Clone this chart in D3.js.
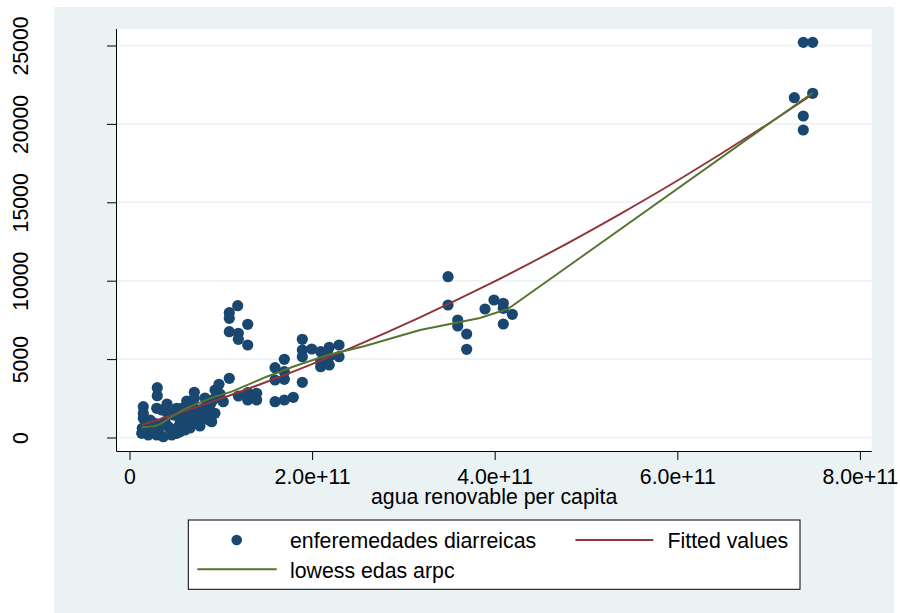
<!DOCTYPE html>
<html>
<head>
<meta charset="utf-8">
<script src="https://cdn.jsdelivr.net/npm/d3@7"></script>
<style>
  html, body { margin: 0; padding: 0; background: #ffffff; }
  svg { display: block; }
  text { font-family: "Liberation Sans", Arial, Helvetica, sans-serif; fill: #000; }
</style>
</head>
<body>
<svg id="chart" width="900" height="613"></svg>
<script>
// Renewable water per capita (x) vs. diarrhoeal disease cases (y)
const waterPerCapita = [
  738.0e9, 748.3e9, 728.2e9, 748.3e9, 738.0e9, 738.0e9,
  348.9e9, 348.9e9, 359.5e9, 359.5e9, 369.3e9, 369.3e9, 389.4e9, 399.2e9, 409.4e9, 409.4e9, 419.3e9, 409.4e9,
  118.5e9, 109.3e9, 109.3e9, 129.5e9, 109.3e9, 119.2e9, 119.2e9, 129.5e9,
  109.3e9, 119.2e9, 129.5e9, 129.5e9, 139.3e9, 139.3e9, 98.0e9, 99.1e9,
  159.4e9, 169.6e9, 159.4e9, 169.6e9, 169.6e9, 159.4e9, 169.6e9, 179.4e9, 189.3e9,
  189.3e9, 189.3e9, 189.3e9, 199.6e9, 209.4e9, 209.4e9, 218.8e9, 218.8e9, 229.5e9, 229.5e9, 209.4e9, 218.8e9,
  15.1e9, 15.1e9, 15.1e9, 14.0e9, 13.4e9, 20.6e9, 20.6e9,
  30.4e9, 30.4e9, 29.8e9, 35.3e9, 40.7e9, 29.8e9, 37.0e9, 27.9e9, 31.5e9, 38.9e9, 42.5e9,
  46.2e9, 51.7e9, 53.5e9, 55.3e9, 53.5e9, 48.0e9, 51.7e9, 57.2e9, 60.8e9, 60.8e9, 60.8e9, 55.3e9,
  62.7e9, 68.1e9, 69.9e9, 68.1e9, 71.0e9, 71.0e9, 75.4e9, 64.4e9,
  82.7e9, 80.8e9, 90.0e9, 84.6e9, 88.2e9, 82.7e9, 93.6e9, 87.1e9, 90.0e9, 93.6e9, 93.6e9, 102.7e9, 79.1e9,
  41.1e9, 22.5e9, 73.9e9, 66.3e9, 77.2e9
];
const diarrhoeaCases = [
  25200, 25200, 21670, 21950, 20505, 19612,
  10256, 8451, 7494, 7111, 6601, 5625, 8196, 8770, 8559, 8240, 7858, 7239,
  8406, 7960, 7603, 7220, 6748, 6646, 6263, 5900,
  3776, 2647, 2857, 2392, 2819, 2392, 3393, 2774,
  4452, 4988, 3667, 4197, 3712, 2283, 2392, 2564, 3521,
  6263, 5581, 5153, 5645, 5472, 4516, 5753, 5153, 5900, 5153, 4835, 4624,
  1964, 1543, 1225, 587, 268, 159, 587,
  3176, 2666, 1862, 1754, 1646, 159, 51, 906, 478, 1008, 689,
  159, 268, 689, 1116, 1543, 1435, 1862, 1862, 1435, 906, 478, 370,
  2328, 1543, 1964, 1008, 2883, 2500, 1646, 1964,
  2519, 1862, 2283, 1225, 2073, 1646, 1543, 1116, 1008, 3030, 2500, 2283, 1435,
  2137, 1116, 1116, 606, 733
];

// Quadratic fit ("Fitted values")
const fitX = [13.4e9, 77.2e9, 148.4e9, 241.5e9, 318.2e9, 391.6e9, 460.6e9, 537.2e9, 603.0e9, 690.6e9, 747.5e9];
const fitY = [797, 2015, 3508, 5689, 7666, 9714, 11787, 14249, 16487, 19670, 21864];

// Lowess smoother ("lowess edas arpc")
const lowessX = [13.4e9, 27.9e9, 35.3e9, 46.2e9, 57.2e9, 71.7e9, 93.6e9, 111.9e9, 149.5e9, 181.3e9, 217.4e9, 257.9e9, 318.2e9, 383.9e9, 414.6e9, 748.3e9];
const lowessY = [638, 733, 906, 1327, 1709, 2117, 2602, 2921, 3859, 4560, 5262, 5836, 6856, 7622, 8196, 21991];

const xTicks = [0, 2e11, 4e11, 6e11, 8e11];
const xTickLabels = ["0", "2.0e+11", "4.0e+11", "6.0e+11", "8.0e+11"];
const yTicks = [0, 5000, 10000, 15000, 20000, 25000];
const xTitle = "agua renovable per capita";
const legendLabels = ["enferemedades diarreicas", "Fitted values", "lowess edas arpc"];

const colors = { marker: "#1A476F", fit: "#90353B", lowess: "#55752F", panel: "#EAF2F3" };
const fontSize = 21.3;

const svg = d3.select("#chart");

// graph region and plot region
const plot = { left: 116.5, right: 871.7, top: 29, bottom: 451.5 };
svg.append("rect").attr("x", 54).attr("y", 7).attr("width", 840).attr("height", 606).attr("fill", colors.panel);
svg.append("rect").attr("x", plot.left).attr("y", plot.top)
  .attr("width", plot.right - plot.left).attr("height", plot.bottom - plot.top).attr("fill", "#fff");

const x = d3.scaleLinear().domain([0, 8e11]).range([129.5, 859.9]);
const y = d3.scaleLinear().domain([0, 25000]).range([437.5, 45.5]);

// horizontal grid
svg.append("g").selectAll("line").data(yTicks).join("line")
  .attr("x1", plot.left + 1).attr("x2", plot.right)
  .attr("y1", d => y(d)).attr("y2", d => y(d))
  .attr("stroke", colors.panel).attr("stroke-width", 1.6);

// y axis
const yAxis = svg.append("g").attr("transform", `translate(${plot.left},0)`)
  .call(d3.axisLeft(y).tickValues(yTicks).tickSize(9.5).tickPadding(0).tickFormat(d3.format("d")));
yAxis.select(".domain").attr("d", `M0,${plot.top}V${plot.bottom}`).attr("stroke", "#000").attr("stroke-width", 1);
yAxis.selectAll(".tick line").attr("stroke", "#000").attr("stroke-width", 1);
yAxis.selectAll(".tick text")
  .attr("x", 0).attr("y", 0).attr("dy", null)
  .attr("transform", `translate(${27.8 - plot.left},0) rotate(-90)`)
  .attr("text-anchor", "middle")
  .style("font-size", fontSize + "px")
  .style("font-family", "'Liberation Sans', Arial, sans-serif")
  .attr("fill", "#000");

// x axis
const xAxis = svg.append("g").attr("transform", `translate(0,${plot.bottom})`)
  .call(d3.axisBottom(x).tickValues(xTicks).tickSize(8.5).tickFormat((d, i) => xTickLabels[i]));
xAxis.select(".domain").attr("d", `M${plot.left},0H${plot.right}`).attr("stroke", "#000").attr("stroke-width", 1);
xAxis.selectAll(".tick line").attr("stroke", "#000").attr("stroke-width", 1);
xAxis.selectAll(".tick text")
  .attr("y", 32.8).attr("dy", null)
  .style("font-size", fontSize + "px")
  .style("font-family", "'Liberation Sans', Arial, sans-serif")
  .attr("fill", "#000");

svg.append("text").attr("x", (plot.left + plot.right) / 2).attr("y", 504)
  .attr("text-anchor", "middle").style("font-size", fontSize + "px").text(xTitle);

// scatter points
const points = waterPerCapita.map((v, i) => ({ x: v, y: diarrhoeaCases[i] }));
svg.append("g").selectAll("circle").data(points).join("circle")
  .attr("cx", d => x(d.x)).attr("cy", d => y(d.y)).attr("r", 5.6)
  .attr("fill", colors.marker);

const line = d3.line().x(d => x(d[0])).y(d => y(d[1]));

svg.append("path")
  .attr("d", line.curve(d3.curveMonotoneX)(fitX.map((v, i) => [v, fitY[i]])))
  .attr("fill", "none").attr("stroke", colors.fit).attr("stroke-width", 1.9);

svg.append("path")
  .attr("d", line.curve(d3.curveLinear)(lowessX.map((v, i) => [v, lowessY[i]])))
  .attr("fill", "none").attr("stroke", colors.lowess).attr("stroke-width", 1.9);

// legend
const lg = svg.append("g");
lg.append("rect").attr("x", 188.3).attr("y", 520).attr("width", 611.7).attr("height", 69.3)
  .attr("fill", "#fff").attr("stroke", "#000").attr("stroke-width", 1);
lg.append("circle").attr("cx", 236.7).attr("cy", 540).attr("r", 5.3).attr("fill", colors.marker);
lg.append("text").attr("x", 290).attr("y", 547.7).style("font-size", fontSize + "px").text(legendLabels[0]);
lg.append("line").attr("x1", 575.4).attr("x2", 653.3).attr("y1", 540).attr("y2", 540)
  .attr("stroke", colors.fit).attr("stroke-width", 1.9);
lg.append("text").attr("x", 667.5).attr("y", 547.7).style("font-size", fontSize + "px").text(legendLabels[1]);
lg.append("line").attr("x1", 197.3).attr("x2", 276.7).attr("y1", 569.3).attr("y2", 569.3)
  .attr("stroke", colors.lowess).attr("stroke-width", 1.9);
lg.append("text").attr("x", 290).attr("y", 577.7).style("font-size", fontSize + "px").text(legendLabels[2]);
</script>
</body>
</html>
